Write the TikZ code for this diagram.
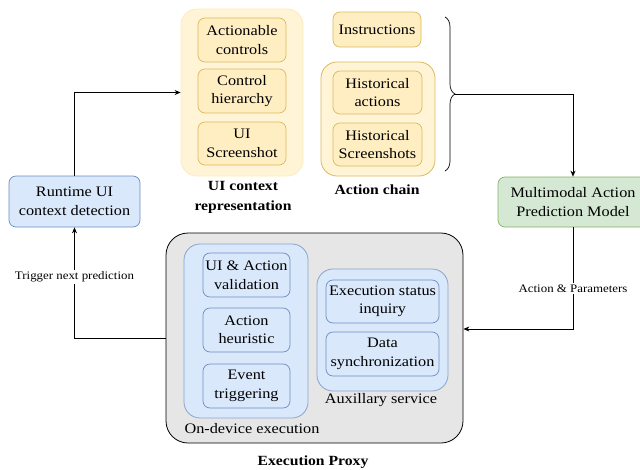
\documentclass[tikz,border=0pt]{standalone}
\usepackage{fontspec}
\setmainfont[FakeStretch=1.12]{Liberation Serif}
\usetikzlibrary{arrows.meta,decorations.pathreplacing,calc}
\definecolor{yOut}{HTML}{FFF4D6}
\definecolor{yOutLine}{HTML}{FFEBBB}
\definecolor{yIn}{HTML}{FFEEC2}
\definecolor{yLine}{HTML}{DDB95E}
\definecolor{bFill}{HTML}{DAE8FC}
\definecolor{bLine}{HTML}{6C8EBF}
\definecolor{gFill}{HTML}{D5E8D4}
\definecolor{gLine}{HTML}{82B366}
\definecolor{grFill}{HTML}{E6E6E6}
\begin{document}
\begin{tikzpicture}[x=1pt,y=-1pt,
  box/.style={draw, rounded corners=7pt, align=center, inner sep=0pt, font=\fontsize{14.5}{18.5}\selectfont, line width=0.7pt},
  ybox/.style={box, fill=yIn, draw=yLine},
  bbox/.style={box, fill=bFill, draw=bLine},
  grp/.style={rounded corners=16pt, line width=0.8pt},
  lbl/.style={align=center, inner sep=0pt, font=\fontsize{14.5}{18}\selectfont},
  blbl/.style={align=center, inner sep=0pt, font=\bfseries\fontsize{14}{20}\selectfont},
  arr/.style={-{Stealth[length=6pt,width=5pt]}, line width=0.7pt},
  small/.style={font=\fontsize{11.5}{13}\selectfont, fill=white, inner sep=1.5pt}
]
\useasboundingbox (0,0) rectangle (640,469);

% UI context representation
\node[grp, draw=yOutLine, fill=yOut, minimum width=122pt, minimum height=167pt] (ctx) at (242,92.5) {};
\node[ybox, minimum width=88pt, minimum height=44pt] (ac) at (242,40) {Actionable\\controls};
\node[ybox, minimum width=88pt, minimum height=44pt] (ch) at (242,91) {Control\\hierarchy};
\node[ybox, minimum width=88pt, minimum height=43pt] (us) at (242,143.5) {UI\\Screenshot};
\node[blbl] (ctxl) at (243,197) {UI context\\representation};

% Action chain
\node[ybox, minimum width=88pt, minimum height=35pt] (instr) at (377,29.5) {Instructions};
\node[grp, draw=yLine, fill=yOut, minimum width=114pt, minimum height=114pt] (hist) at (378,119) {};
\node[ybox, minimum width=89pt, minimum height=43pt] (ha) at (377.5,92.5) {Historical\\actions};
\node[ybox, minimum width=89pt, minimum height=43pt] (hs) at (377.5,144.5) {Historical\\Screenshots};
\node[blbl] (chl) at (377,190) {Action chain};

% brace
\coordinate (bt1) at (445,17);
\coordinate (bt2) at (445,171);
\draw[line width=0.7pt, decorate, decoration={brace, amplitude=10pt}] (bt1) -- (bt2);
\coordinate (bt) at (455,94);

% Multimodal model
\node[box, fill=gFill, draw=gLine, minimum width=150pt, minimum height=50pt] (mm) at (573,202) {Multimodal Action\\Prediction Model};

% Runtime
\node[bbox, minimum width=131pt, minimum height=51pt] (rt) at (74.5,201.5) {Runtime UI\\context detection};

% Execution proxy
\node[draw, fill=grFill, rounded corners=22pt, line width=0.8pt, minimum width=297pt, minimum height=210pt] (proxy) at (314.5,338) {};
\node[grp, fill=bFill, draw=bLine!80, minimum width=124pt, minimum height=174pt] (ondev) at (246,331) {};
\node[bbox, minimum width=87pt, minimum height=44pt] (v1) at (246.5,275) {UI \& Action\\validation};
\node[bbox, minimum width=87pt, minimum height=44pt] (v2) at (246.5,330) {Action\\heuristic};
\node[bbox, minimum width=87pt, minimum height=44pt] (v3) at (246.5,386) {Event\\triggering};
\node[lbl] (ondevl) at (252,429) {On-device execution};
\node[grp, fill=bFill, draw=bLine!80, minimum width=131pt, minimum height=122pt] (aux) at (382.5,330) {};
\node[bbox, minimum width=113pt, minimum height=43pt] (e1) at (382.5,301.5) {Execution status\\inquiry};
\node[bbox, minimum width=113pt, minimum height=44pt] (e2) at (382.5,354) {Data\\synchronization};
\node[lbl] (auxl) at (381,400) {Auxillary service};
\node[blbl] (proxyl) at (313,462) {Execution Proxy};

% connectors
\draw[arr] (rt.north) |- (ctx.west);
\draw[arr] (bt) -| (mm.north);
\draw[arr] (mm.south) |- ($(proxy.east)+(0,-9)$) node[pos=0.3, small] {Action \& Parameters};
\draw[arr] (proxy.west) -| (rt.south) node[pos=0.775, small] {Trigger next prediction};
\end{tikzpicture}
\end{document}
